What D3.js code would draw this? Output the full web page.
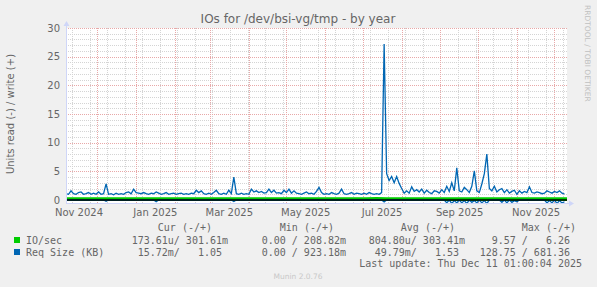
<!DOCTYPE html>
<html>
<head>
<meta charset="utf-8">
<script src="https://cdn.jsdelivr.net/npm/d3@7"></script>
<style>
body { margin: 0; background: #f0f0f0; }
text { font-family: "DejaVu Sans", sans-serif; fill: #666; }
.mono { font-family: "DejaVu Sans Mono", monospace; font-size: 10px; white-space: pre; }
</style>
</head>
<body>
<script>
const width = 597;
const height = 287;

// time range of the year graph (400 days), one sample every 2 days
const startDate = new Date(Date.UTC(2024, 10, 6, 1, 0, 0));
const endDate = new Date(Date.UTC(2025, 11, 11, 1, 0, 0));
const stepDays = 2;

// Req Size (KB), write (+)
const reqWrite = [
  1.1, 1.0, 1.6, 1.1, 1.0, 1.3, 1.4, 1.0, 1.1, 1.3,
  1.0, 1.2, 1.0, 1.4, 1.0, 1.1, 2.8, 1.0, 1.1, 0.9,
  1.2, 1.0, 1.1, 1.0, 1.3, 1.4, 1.1, 1.9, 1.3, 1.2,
  1.1, 1.3, 1.1, 1.0, 1.2, 1.1, 1.4, 1.2, 1.0, 1.1,
  1.3, 1.0, 1.1, 1.2, 1.0, 1.1, 1.2, 1.0, 1.1, 1.0,
  1.2, 1.1, 1.7, 1.3, 1.6, 1.1, 1.0, 1.2, 1.0, 1.3,
  1.7, 1.1, 1.0, 1.2, 1.0, 1.7, 1.1, 4.0, 1.1, 1.0,
  1.2, 1.0, 1.1, 1.0, 1.9, 1.4, 1.6, 1.3, 1.5, 1.2,
  1.3, 1.9, 1.3, 1.7, 1.2, 1.3, 1.1, 1.7, 1.3, 1.9,
  1.2, 1.6, 1.2, 1.1, 1.0, 1.2, 1.4, 1.1, 1.2, 1.0,
  1.5, 2.2, 1.3, 1.0, 1.1, 1.0, 1.3, 1.1, 1.0, 1.2,
  1.9, 1.1, 1.0, 1.1, 1.3, 1.0, 1.2, 1.1, 1.0, 1.2,
  1.0, 1.3, 1.1, 1.0, 1.1, 1.0, 1.3, 27.2, 4.6, 3.4,
  4.1, 3.0, 4.1, 2.9, 2.0, 1.2, 1.6, 1.2, 2.3, 1.5,
  1.8, 1.4, 1.9, 1.2, 1.7, 1.3, 1.1, 1.6, 1.5, 1.2,
  1.8, 1.3, 2.4, 1.5, 3.0, 1.6, 5.6, 1.6, 1.4, 2.2,
  1.8, 1.3, 2.4, 5.1, 1.6, 1.3, 2.8, 4.6, 8.0, 2.0,
  1.6, 2.4, 1.4, 1.8, 2.0, 1.3, 1.8, 1.2, 1.5, 1.7,
  1.0, 1.6, 1.2, 1.5, 1.3, 2.3, 1.3, 1.2, 1.4, 1.3,
  1.1, 1.2, 1.6, 1.4, 1.2, 1.5, 1.3, 1.6, 1.2, 1.05
];

// Req Size (KB), read (-)
const reqRead = [
  0, 0, 0, 0, 0, 0, 0, 0, 0, 0,
  0, 0, 0, 0, 0, 0, 0.2, 0, 0, 0,
  0, 0, 0, 0, 0, 0, 0, 0, 0, 0,
  0, 0, 0, 0, 0, 0, 0.3, 0, 0, 0,
  0, 0, 0, 0, 0, 0, 0, 0, 0, 0,
  0, 0, 0, 0, 0, 0, 0, 0, 0, 0,
  0, 0, 0, 0, 0, 0, 0, 0.25, 0, 0,
  0, 0, 0, 0, 0, 0, 0, 0, 0, 0,
  0, 0, 0, 0, 0, 0, 0, 0, 0, 0,
  0, 0, 0, 0, 0, 0, 0, 0, 0, 0,
  0, 0, 0, 0, 0, 0, 0, 0, 0, 0,
  0, 0, 0, 0, 0, 0, 0, 0, 0, 0,
  0, 0, 0, 0, 0, 0, 0, 0.35, 0, 0,
  0, 0, 0, 0, 0, 0, 0, 0, 0, 0,
  0, 0, 0, 0, 0, 0, 0, 0, 0, 0,
  0, 0, 0.5, 0, 0.6, 0.1, 0.5, 0, 0.5, 0.1,
  0.6, 0, 0.4, 0.1, 0.5, 0, 0.5, 0.1, 0.6, 0,
  0, 0, 0, 0, 0.4, 0, 0.5, 0, 0.4, 0.1,
  0.3, 0, 0, 0, 0, 0, 0, 0, 0, 0,
  0, 0, 0.5, 0.1, 0.5, 0, 0.6, 0.1, 0.5, 0.3
];

// IO/sec, one sample every 8 days
const ioStepDays = 8;
const ioWrite = [
  0.31, 0.30, 0.30, 0.31, 0.30, 0.30, 0.29, 0.30, 0.31, 0.30,
  0.30, 0.30, 0.31, 0.30, 0.30, 0.30, 0.31, 0.30, 0.30, 0.30,
  0.30, 0.31, 0.30, 0.30, 0.30, 0.30, 0.31, 0.30, 0.30, 0.30,
  0.30, 0.36, 0.31, 0.30, 0.30, 0.30, 0.31, 0.30, 0.30, 0.30,
  0.30, 0.31, 0.30, 0.30, 0.30, 0.30, 0.31, 0.30, 0.30, 0.30, 0.30
];
const ioRead = [
  0.001, 0.001, 0.001, 0.001, 0.001, 0.001, 0.001, 0.001, 0.001, 0.001,
  0.001, 0.001, 0.001, 0.001, 0.001, 0.001, 0.001, 0.001, 0.001, 0.001,
  0.001, 0.001, 0.001, 0.001, 0.001, 0.001, 0.001, 0.001, 0.001, 0.001,
  0.001, 0.001, 0.001, 0.001, 0.001, 0.001, 0.001, 0.001, 0.001, 0.001,
  0.001, 0.001, 0.001, 0.001, 0.001, 0.001, 0.001, 0.001, 0.001, 0.001, 0.001
];

// axis labels
const yTicks = [0, 5, 10, 15, 20, 25, 30];
const xLabels = ["Nov 2024", "Jan 2025", "Mar 2025", "May 2025", "Jul 2025", "Sep 2025", "Nov 2025"];
const xLabelMonths = [[2024, 10], [2025, 0], [2025, 2], [2025, 4], [2025, 6], [2025, 8], [2025, 10]];

// legend
const legendNames = ["IO/sec", "Req Size (KB)"];
const legendColors = ["#00cc00", "#0066b3"];
const legendHeads = ["Cur (-/+)", "Min (-/+)", "Avg (-/+)", "Max (-/+)"];
const legendCur = ["173.61u/ 301.61m", " 15.72m/   1.05 "];
const legendMin = ["  0.00 / 208.82m", "  0.00 / 923.18m"];
const legendAvg = ["804.80u/ 303.41m", " 49.79m/   1.53 "];
const legendMax = ["  9.57 /   6.26 ", "128.75 / 681.36 "];

const svg = d3.select("body").append("svg")
  .attr("width", width)
  .attr("height", height)
  .style("display", "block");

svg.append("rect").attr("width", width).attr("height", height).attr("fill", "#f0f0f0");

const plotL = 66, plotR = 567, plotT = 28, plotB = 203;

const x = d3.scaleUtc().domain([startDate, endDate]).range([plotL, plotR]);
const y = d3.scaleLinear().domain([-0.52, 30]).range([plotB, plotT]);

svg.append("rect")
  .attr("x", plotL).attr("y", plotT)
  .attr("width", plotR - plotL).attr("height", plotB - plotT)
  .attr("fill", "#ffffff");

const grid = svg.append("g").attr("shape-rendering", "crispEdges");

// minor horizontal grid, every unit
const minorY = d3.range(1, 31).filter(v => v % 5 !== 0);
grid.selectAll(".hmin").data(minorY).enter().append("line")
  .attr("x1", plotL).attr("x2", plotR)
  .attr("y1", d => Math.round(y(d)) + 0.5).attr("y2", d => Math.round(y(d)) + 0.5)
  .attr("stroke", "#d4d4d4").attr("stroke-dasharray", "1,1");

// minor vertical grid, every two weeks
const twoWeeks = 14 * 24 * 3600 * 1000;
const minorX = [];
for (let t = Date.UTC(2025, 11, 8); t > startDate.getTime(); t -= twoWeeks) {
  const dt = new Date(t);
  if (dt.getUTCDate() !== 1) minorX.push(dt);
}
grid.selectAll(".vmin").data(minorX).enter().append("line")
  .attr("x1", d => Math.round(x(d)) + 0.5).attr("x2", d => Math.round(x(d)) + 0.5)
  .attr("y1", plotT).attr("y2", plotB)
  .attr("stroke", "#d4d4d4").attr("stroke-dasharray", "1,1");

// major grid
const majorX = d3.utcMonth.range(startDate, endDate);
grid.selectAll(".vmaj").data(majorX).enter().append("line")
  .attr("x1", d => Math.round(x(d)) + 0.5).attr("x2", d => Math.round(x(d)) + 0.5)
  .attr("y1", plotT).attr("y2", plotB)
  .attr("stroke", "#e8a8a8").attr("stroke-dasharray", "1,1");
grid.selectAll(".hmaj").data(yTicks.filter(v => v > 0)).enter().append("line")
  .attr("x1", plotL).attr("x2", plotR)
  .attr("y1", d => Math.round(y(d)) + 0.5).attr("y2", d => Math.round(y(d)) + 0.5)
  .attr("stroke", "#e8a8a8").attr("stroke-dasharray", "1,1");

// series
const day = 24 * 3600 * 1000;
const toPoints = (arr, step, sign) => arr.map((v, i) => ({
  date: new Date(startDate.getTime() + i * step * day),
  v: sign * v
}));

const line = d3.line().x(d => x(d.date)).y(d => y(d.v));

svg.append("path").datum(toPoints(ioRead, ioStepDays, -1))
  .attr("d", line).attr("fill", "none").attr("stroke", "#00cc00").attr("stroke-width", 2);
svg.append("path").datum(toPoints(ioWrite, ioStepDays, 1))
  .attr("d", line).attr("fill", "none").attr("stroke", "#00cc00").attr("stroke-width", 2);
svg.append("path").datum(toPoints(reqRead, stepDays, -1))
  .attr("d", line).attr("fill", "none").attr("stroke", "#0066b3").attr("stroke-width", 1.3);
svg.append("path").datum(toPoints(reqWrite, stepDays, 1))
  .attr("d", line).attr("fill", "none").attr("stroke", "#0066b3").attr("stroke-width", 1.3);

// zero rule
svg.append("line")
  .attr("x1", plotL).attr("x2", plotR)
  .attr("y1", y(0)).attr("y2", y(0))
  .attr("stroke", "#000").attr("stroke-width", 1.5);

// axes lines with arrows
const axisColor = "#cfd6f8";
svg.append("line").attr("x1", plotL + 0.5).attr("x2", plotL + 0.5).attr("y1", plotB).attr("y2", plotT - 5)
  .attr("stroke", axisColor);
svg.append("path").attr("d", `M${plotL - 2.5},${plotT - 2}L${plotL + 3.5},${plotT - 2}L${plotL + 0.5},${plotT - 7}Z`)
  .attr("fill", axisColor);
svg.append("line").attr("x1", plotL).attr("x2", plotR + 3).attr("y1", plotB + 0.5).attr("y2", plotB + 0.5)
  .attr("stroke", axisColor);
svg.append("path").attr("d", `M${plotR + 2},${plotB - 2.5}L${plotR + 2},${plotB + 3.5}L${plotR + 7},${plotB + 0.5}Z`)
  .attr("fill", axisColor);

// y axis labels
const yAxis = svg.append("g")
  .attr("transform", `translate(${plotL},0)`)
  .call(d3.axisLeft(y).tickValues(yTicks).tickSize(0).tickPadding(6).tickFormat(d3.format("d")));
yAxis.select(".domain").remove();
yAxis.selectAll("text").attr("fill", "#666").style("font-size", "10px")
  .style("font-family", "'DejaVu Sans', sans-serif");

// x axis labels, centred half a month after the month start
const labelDates = xLabelMonths.map(m => new Date(Date.UTC(m[0], m[1], 1) + 15 * day));
const xAxis = svg.append("g")
  .attr("transform", `translate(0,${plotB})`)
  .call(d3.axisBottom(x).tickValues(labelDates).tickSize(0).tickPadding(6)
    .tickFormat((d, i) => xLabels[i]));
xAxis.select(".domain").remove();
xAxis.selectAll("text").attr("fill", "#666").style("font-size", "10px")
  .style("font-family", "'DejaVu Sans', sans-serif");

// title
svg.append("text")
  .attr("x", 298).attr("y", 23)
  .attr("text-anchor", "middle")
  .style("font-size", "12px")
  .text("IOs for /dev/bsi-vg/tmp - by year");

// y axis title
svg.append("text")
  .attr("transform", "translate(14,114) rotate(-90)")
  .attr("text-anchor", "middle")
  .style("font-size", "10px")
  .text("Units read (-) / write (+)");

// side watermark
svg.append("text")
  .attr("transform", "translate(585,5) rotate(90)")
  .style("font-size", "7.5px")
  .style("fill", "#c0c0c0")
  .text("RRDTOOL / TOBI OETIKER");

// legend
const legend = svg.append("g");
const headEnds = [212, 334, 455, 576];
legend.selectAll(".head").data(legendHeads).enter().append("text")
  .attr("class", "mono")
  .attr("x", (d, i) => headEnds[i]).attr("y", 231)
  .attr("text-anchor", "end")
  .text(d => d);

const colEnds = [228, 346, 465, 576];
const cols = [legendCur, legendMin, legendAvg, legendMax];
legendNames.forEach((name, r) => {
  const yy = 244 + r * 12;
  legend.append("rect")
    .attr("x", 14).attr("y", yy - 7).attr("width", 6).attr("height", 6)
    .attr("fill", legendColors[r]);
  legend.append("text").attr("class", "mono").attr("x", 26).attr("y", yy).text(name);
  cols.forEach((col, c) => {
    legend.append("text").attr("class", "mono")
      .attr("x", colEnds[c]).attr("y", yy)
      .attr("text-anchor", "end")
      .text(col[r]);
  });
});

legend.append("text").attr("class", "mono")
  .attr("x", 582).attr("y", 267)
  .attr("text-anchor", "end")
  .text("Last update: Thu Dec 11 01:00:04 2025");

svg.append("text")
  .attr("x", 298).attr("y", 279)
  .attr("text-anchor", "middle")
  .style("font-size", "7.5px")
  .style("fill", "#c8c8c8")
  .text("Munin 2.0.76");
</script>
</body>
</html>
